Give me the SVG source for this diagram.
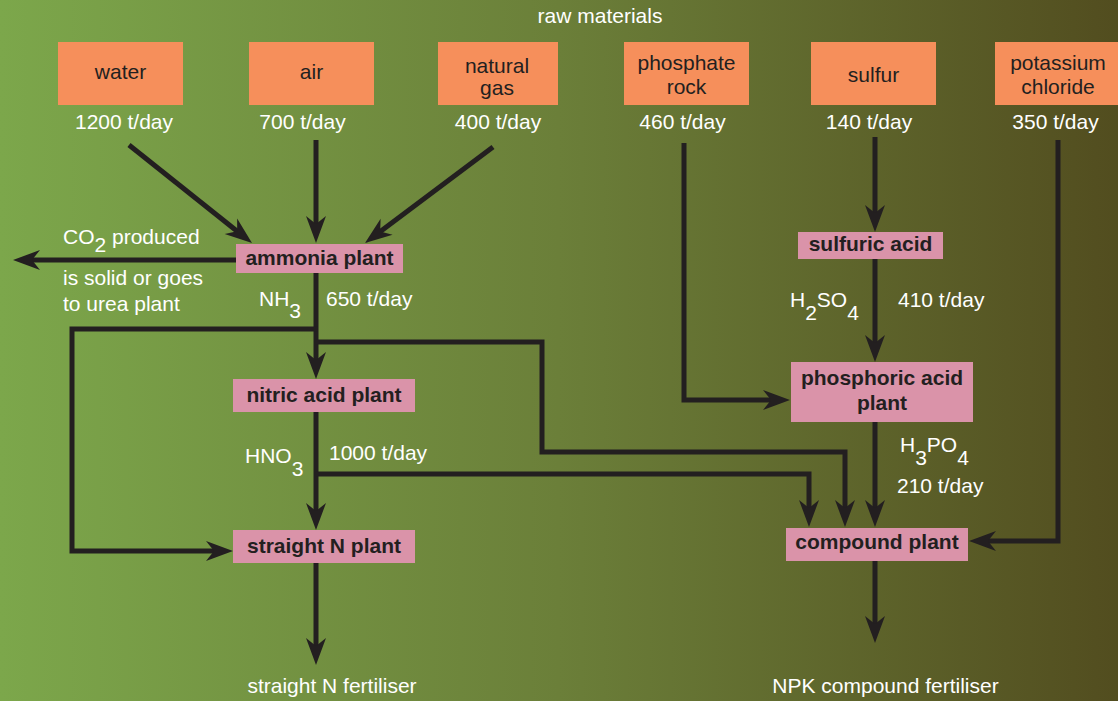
<svg xmlns="http://www.w3.org/2000/svg" width="1118" height="701" viewBox="0 0 1118 701">
<defs>
<linearGradient id="bg" x1="0" y1="0" x2="1" y2="0">
<stop offset="0" stop-color="#7ca74b"/>
<stop offset="0.5" stop-color="#6b7f39"/>
<stop offset="1" stop-color="#524d1f"/>
</linearGradient>
<marker id="ah" markerUnits="userSpaceOnUse" orient="auto" refX="0" refY="0" markerWidth="40" markerHeight="30" overflow="visible">
<path d="M15,0 L-12,-10 L-4,0 L-12,10 Z" fill="#231f20"/>
</marker>
<style>
.raw{fill:#f68f5b}
.plant{fill:#da93a9}
.rl{font-family:"Liberation Sans",Arial,sans-serif;font-size:21px;fill:#231f20;text-anchor:middle}
.pl{font-family:"Liberation Sans",Arial,sans-serif;font-size:21px;font-weight:bold;fill:#231f20;text-anchor:middle}
.wt{font-family:"Liberation Sans",Arial,sans-serif;font-size:21px;fill:#ffffff}
.wm{font-family:"Liberation Sans",Arial,sans-serif;font-size:21px;fill:#ffffff;text-anchor:middle}
.c{fill:none;stroke:#231f20;stroke-width:5}
.ca{fill:none;stroke:#231f20;stroke-width:5;marker-end:url(#ah)}
</style>
</defs>
<rect x="0" y="0" width="1118" height="701" fill="url(#bg)"/>
<text class="wm" x="600" y="23">raw materials</text>

<g id="water"><rect class="raw" x="58" y="42" width="125" height="63"/><text class="rl" x="120.5" y="79">water</text><text class="wm" x="124" y="129">1200 t/day</text></g>
<g id="air"><rect class="raw" x="249" y="42" width="125" height="63"/><text class="rl" x="311.5" y="79">air</text><text class="wm" x="302.5" y="129">700 t/day</text></g>
<g id="natural-gas"><rect class="raw" x="438" y="42" width="120" height="63"/><text class="rl" x="497" y="73">natural</text><text class="rl" x="497" y="95">gas</text><text class="wm" x="498" y="129">400 t/day</text></g>
<g id="phosphate-rock"><rect class="raw" x="624" y="42" width="125" height="63"/><text class="rl" x="686.5" y="70">phosphate</text><text class="rl" x="686.5" y="94">rock</text><text class="wm" x="682.5" y="129">460 t/day</text></g>
<g id="sulfur"><rect class="raw" x="811" y="42" width="125" height="63"/><text class="rl" x="873.5" y="82">sulfur</text><text class="wm" x="869" y="129">140 t/day</text></g>
<g id="potassium-chloride"><rect class="raw" x="995" y="42" width="125" height="63"/><text class="rl" x="1058" y="70">potassium</text><text class="rl" x="1058" y="94">chloride</text><text class="wm" x="1055.5" y="129">350 t/day</text></g>

<g id="connectors">
<line class="ca" x1="129" y1="145" x2="240.3" y2="233.7"/>
<line class="ca" x1="316" y1="140" x2="316" y2="228"/>
<line class="ca" x1="493" y1="147" x2="377" y2="234"/>
<line class="ca" x1="236" y1="260" x2="28" y2="260"/>
<line class="ca" x1="316" y1="273" x2="316" y2="364"/>
<path class="ca" d="M318,329 H72 V551 H218"/>
<path class="ca" d="M316,342 H542 V452 H845 V512"/>
<line class="ca" x1="316" y1="412" x2="316" y2="515"/>
<path class="ca" d="M316,474 H809 V512"/>
<line class="ca" x1="316" y1="563" x2="316" y2="650"/>
<line class="ca" x1="875" y1="561" x2="875" y2="628"/>
<path class="ca" d="M684,143 V400 H775"/>
<line class="ca" x1="875" y1="137" x2="875" y2="217"/>
<line class="ca" x1="875" y1="259" x2="875" y2="347"/>
<line class="ca" x1="875" y1="422" x2="875" y2="512"/>
<path class="ca" d="M1058,140 V541 H984"/>
</g>

<g id="ammonia-plant"><rect class="plant" x="236" y="244" width="167" height="29"/><text class="pl" x="319.5" y="265">ammonia plant</text></g>
<g id="nitric-acid-plant"><rect class="plant" x="233" y="379" width="182" height="33"/><text class="pl" x="324" y="402">nitric acid plant</text></g>
<g id="straight-n-plant"><rect class="plant" x="233" y="530" width="182" height="33"/><text class="pl" x="324" y="553">straight N plant</text></g>
<g id="sulfuric-acid"><rect class="plant" x="798" y="232" width="145" height="27"/><text class="pl" x="870.5" y="251">sulfuric acid</text></g>
<g id="phosphoric-acid-plant"><rect class="plant" x="791" y="362" width="182" height="60"/><text class="pl" x="882" y="385">phosphoric acid</text><text class="pl" x="882" y="410">plant</text></g>
<g id="compound-plant"><rect class="plant" x="786" y="528" width="182" height="33"/><text class="pl" x="877" y="549">compound plant</text></g>

<g id="labels">
<text class="wt" x="63" y="244">CO<tspan dy="8">2</tspan><tspan dy="-8"> produced</tspan></text>
<text class="wt" x="63" y="285">is solid or goes</text>
<text class="wt" x="63" y="311">to urea plant</text>
<text class="wt" x="259" y="306">NH<tspan dy="12">3</tspan></text>
<text class="wt" x="326" y="306">650 t/day</text>
<text class="wt" x="245" y="463">HNO<tspan dy="13">3</tspan></text>
<text class="wt" x="329" y="460">1000 t/day</text>
<text class="wt" x="790" y="307">H<tspan dy="13">2</tspan><tspan dy="-13">SO</tspan><tspan dy="13">4</tspan></text>
<text class="wt" x="898" y="307">410 t/day</text>
<text class="wt" x="900" y="452">H<tspan dy="13">3</tspan><tspan dy="-13">PO</tspan><tspan dy="13">4</tspan></text>
<text class="wt" x="897" y="493">210 t/day</text>
<text class="wm" x="332" y="693">straight N fertiliser</text>
<text class="wm" x="885.5" y="693">NPK compound fertiliser</text>
</g>
</svg>
